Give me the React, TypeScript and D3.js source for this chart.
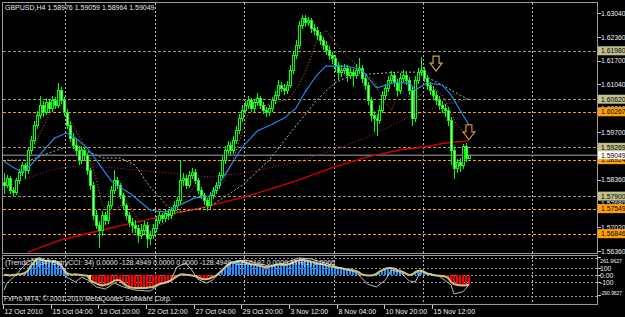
import React, { useEffect } from "react";
import * as d3 from "d3";

const W = 625;
const H = 317;

const symbolTitle = "GBPUSD,H4  1.58976 1.59059 1.58964 1.59049";
const indicatorTitle =
  "(TrendCCI(34) EntryCCI: 34)  0.0000  -128.4949  0.0000  0.0000  -128.4949  -123.6192  0.0000  ATR(1) 0.0066";
const copyright = "FxPro MT4, \u00a9 2001-2010 MetaQuotes Software Corp.";

// [open, high, low, close] per H4 bar
const candles: [number, number, number, number][] = [
  [1.5830, 1.5856, 1.5798, 1.5821], [1.5821, 1.5850, 1.5815, 1.5841], [1.5841, 1.5846, 1.5798, 1.5807],
  [1.5807, 1.5815, 1.5790, 1.5802], [1.5802, 1.5842, 1.5797, 1.5835], [1.5835, 1.5866, 1.5828, 1.5858],
  [1.5858, 1.5886, 1.5850, 1.5877], [1.5877, 1.5884, 1.5840, 1.5863], [1.5863, 1.5928, 1.5855, 1.5919],
  [1.5919, 1.5958, 1.5910, 1.5948], [1.5948, 1.6000, 1.5940, 1.5990], [1.5990, 1.6030, 1.5982, 1.6018],
  [1.6018, 1.6070, 1.6010, 1.6046], [1.6046, 1.6056, 1.6015, 1.6026], [1.6026, 1.6066, 1.6020, 1.6054],
  [1.6054, 1.6064, 1.6028, 1.6037], [1.6037, 1.6072, 1.6030, 1.6060], [1.6060, 1.6068, 1.6038, 1.6046],
  [1.6046, 1.6107, 1.6040, 1.6088], [1.6088, 1.6096, 1.6050, 1.6060], [1.6060, 1.6068, 1.6018, 1.6026],
  [1.6026, 1.6034, 1.5980, 1.5990], [1.5990, 1.5998, 1.5945, 1.5953], [1.5953, 1.5966, 1.5925, 1.5934],
  [1.5934, 1.5950, 1.5908, 1.5919], [1.5919, 1.5930, 1.5880, 1.5891], [1.5891, 1.5930, 1.5884, 1.5919],
  [1.5919, 1.5928, 1.5895, 1.5905], [1.5905, 1.5912, 1.5852, 1.5863], [1.5863, 1.5870, 1.5810, 1.5821],
  [1.5821, 1.5830, 1.5725, 1.5737], [1.5737, 1.5750, 1.5700, 1.5709], [1.5709, 1.5720, 1.5647, 1.5695],
  [1.5695, 1.5748, 1.5680, 1.5737], [1.5737, 1.5745, 1.5712, 1.5723], [1.5723, 1.5776, 1.5715, 1.5765],
  [1.5765, 1.5818, 1.5758, 1.5807], [1.5807, 1.5862, 1.5800, 1.5835], [1.5835, 1.5845, 1.5812, 1.5821],
  [1.5821, 1.5828, 1.5785, 1.5793], [1.5793, 1.5800, 1.5755, 1.5765], [1.5765, 1.5772, 1.5725, 1.5737],
  [1.5737, 1.5745, 1.5705, 1.5717], [1.5717, 1.5730, 1.5690, 1.5709], [1.5709, 1.5722, 1.5688, 1.5700],
  [1.5700, 1.5710, 1.5660, 1.5681], [1.5681, 1.5712, 1.5672, 1.5695], [1.5695, 1.5720, 1.5685, 1.5709],
  [1.5709, 1.5716, 1.5647, 1.5672], [1.5672, 1.5692, 1.5655, 1.5681], [1.5681, 1.5712, 1.5672, 1.5700],
  [1.5700, 1.5735, 1.5692, 1.5723], [1.5723, 1.5748, 1.5715, 1.5737], [1.5737, 1.5744, 1.5718, 1.5729],
  [1.5729, 1.5752, 1.5720, 1.5743], [1.5743, 1.5750, 1.5726, 1.5737], [1.5737, 1.5760, 1.5728, 1.5751],
  [1.5751, 1.5775, 1.5742, 1.5765], [1.5765, 1.5788, 1.5755, 1.5779], [1.5779, 1.5892, 1.5770, 1.5835],
  [1.5835, 1.5855, 1.5822, 1.5841], [1.5841, 1.5848, 1.5812, 1.5821], [1.5821, 1.5860, 1.5815, 1.5849],
  [1.5849, 1.5868, 1.5840, 1.5858], [1.5858, 1.5865, 1.5826, 1.5835], [1.5835, 1.5842, 1.5798, 1.5807],
  [1.5807, 1.5815, 1.5785, 1.5793], [1.5793, 1.5800, 1.5768, 1.5779], [1.5779, 1.5786, 1.5752, 1.5765],
  [1.5765, 1.5802, 1.5758, 1.5793], [1.5793, 1.5815, 1.5785, 1.5807], [1.5807, 1.5830, 1.5798, 1.5821],
  [1.5821, 1.5858, 1.5812, 1.5849], [1.5849, 1.5902, 1.5840, 1.5891], [1.5891, 1.5930, 1.5882, 1.5919],
  [1.5919, 1.5945, 1.5910, 1.5934], [1.5934, 1.5942, 1.5908, 1.5919], [1.5919, 1.5958, 1.5912, 1.5948],
  [1.5948, 1.5988, 1.5940, 1.5976], [1.5976, 1.6020, 1.5968, 1.6009], [1.6009, 1.6045, 1.6000, 1.6032],
  [1.6032, 1.6058, 1.6024, 1.6046], [1.6046, 1.6072, 1.6038, 1.6060], [1.6060, 1.6066, 1.6028, 1.6037],
  [1.6037, 1.6062, 1.6030, 1.6054], [1.6054, 1.6080, 1.6046, 1.6065], [1.6065, 1.6072, 1.6038, 1.6046],
  [1.6046, 1.6054, 1.6022, 1.6032], [1.6032, 1.6040, 1.6015, 1.6026], [1.6026, 1.6045, 1.6018, 1.6037],
  [1.6037, 1.6068, 1.6030, 1.6060], [1.6060, 1.6084, 1.6052, 1.6074], [1.6074, 1.6115, 1.6066, 1.6102],
  [1.6102, 1.6110, 1.6085, 1.6094], [1.6094, 1.6104, 1.6078, 1.6088], [1.6088, 1.6112, 1.6080, 1.6102],
  [1.6102, 1.6158, 1.6095, 1.6144], [1.6144, 1.6198, 1.6136, 1.6186], [1.6186, 1.6228, 1.6178, 1.6214],
  [1.6214, 1.6282, 1.6205, 1.6270], [1.6270, 1.6298, 1.6262, 1.6290], [1.6290, 1.6298, 1.6268, 1.6279],
  [1.6279, 1.6292, 1.6270, 1.6284], [1.6284, 1.6290, 1.6250, 1.6262], [1.6262, 1.6272, 1.6245, 1.6256],
  [1.6256, 1.6264, 1.6232, 1.6242], [1.6242, 1.6252, 1.6218, 1.6228], [1.6228, 1.6236, 1.6204, 1.6214],
  [1.6214, 1.6225, 1.6190, 1.6200], [1.6200, 1.6210, 1.6176, 1.6186], [1.6186, 1.6195, 1.6165, 1.6178],
  [1.6178, 1.6186, 1.6140, 1.6158], [1.6158, 1.6166, 1.6120, 1.6138], [1.6138, 1.6158, 1.6128, 1.6144],
  [1.6144, 1.6162, 1.6135, 1.6150], [1.6150, 1.6158, 1.6112, 1.6130], [1.6130, 1.6150, 1.6122, 1.6138],
  [1.6138, 1.6146, 1.6100, 1.6130], [1.6130, 1.6160, 1.6122, 1.6144], [1.6144, 1.6178, 1.6136, 1.6150],
  [1.6150, 1.6158, 1.6110, 1.6122], [1.6122, 1.6130, 1.6090, 1.6102], [1.6102, 1.6110, 1.6048, 1.6060],
  [1.6060, 1.6068, 1.6005, 1.6018], [1.6018, 1.6030, 1.5972, 1.6009], [1.6009, 1.6020, 1.5962, 1.6004],
  [1.6004, 1.6045, 1.5995, 1.6032], [1.6032, 1.6085, 1.6025, 1.6074], [1.6074, 1.6105, 1.6066, 1.6094],
  [1.6094, 1.6128, 1.6086, 1.6116], [1.6116, 1.6142, 1.6108, 1.6130], [1.6130, 1.6138, 1.6100, 1.6110],
  [1.6110, 1.6118, 1.6075, 1.6088], [1.6088, 1.6135, 1.6080, 1.6122], [1.6122, 1.6145, 1.6114, 1.6130],
  [1.6130, 1.6140, 1.6105, 1.6116], [1.6116, 1.6124, 1.6078, 1.6088], [1.6088, 1.6098, 1.5990, 1.6010],
  [1.6010, 1.6128, 1.6002, 1.6116], [1.6116, 1.6150, 1.6108, 1.6138], [1.6138, 1.6180, 1.6130, 1.6144],
  [1.6144, 1.6152, 1.6112, 1.6122], [1.6122, 1.6130, 1.6092, 1.6102], [1.6102, 1.6110, 1.6078, 1.6088],
  [1.6088, 1.6098, 1.6062, 1.6074], [1.6074, 1.6085, 1.6048, 1.6060], [1.6060, 1.6070, 1.6035, 1.6046],
  [1.6046, 1.6056, 1.6025, 1.6037], [1.6037, 1.6048, 1.6015, 1.6032], [1.6032, 1.6040, 1.5990, 1.6004],
  [1.6004, 1.6012, 1.5880, 1.5919], [1.5919, 1.5928, 1.5841, 1.5869], [1.5869, 1.5895, 1.5858, 1.5886],
  [1.5886, 1.5898, 1.5860, 1.5877], [1.5877, 1.5935, 1.5868, 1.5930], [1.5930, 1.5938, 1.5890, 1.58976],
  [1.58976, 1.59059, 1.58964, 1.59049],
];

// moving averages: [bar index, price]
const blueMA: [number, number][] = [
  [0, 1.5888], [3, 1.5871], [6, 1.5858], [9, 1.5877], [14, 1.5925], [17, 1.5953], [21, 1.5967],
  [24, 1.5953], [28, 1.5925], [31, 1.5891], [36, 1.5832], [43, 1.5793], [49, 1.5751], [54, 1.5745],
  [59, 1.5765], [64, 1.5785], [69, 1.5788], [73, 1.5835], [80, 1.5928], [85, 1.5973], [90, 1.5992],
  [94, 1.6009], [98, 1.6037], [101, 1.6082], [105, 1.6130], [108, 1.6155], [115, 1.6155], [120, 1.6144],
  [125, 1.6094], [131, 1.6108], [136, 1.6108], [138, 1.6088], [142, 1.6108], [147, 1.6102],
  [150, 1.6074], [153, 1.6032], [156, 1.5990],
];
const redMA: [number, number][] = [
  [8, 1.5633], [19, 1.5667], [33, 1.5695], [43, 1.5715], [52, 1.5731], [59, 1.5745], [66, 1.5757],
  [81, 1.5788], [97, 1.5830], [111, 1.5872], [122, 1.5900], [133, 1.5920], [141, 1.5928],
  [148, 1.5939], [156, 1.5945],
];
const purpleMA: [number, number][] = [
  [0, 1.5813], [9, 1.5844], [16, 1.5864], [22, 1.5872], [33, 1.5872], [44, 1.5864], [55, 1.5855],
  [69, 1.5844], [81, 1.5855], [97, 1.5883], [111, 1.5920], [122, 1.5956], [136, 1.6012],
  [147, 1.6046], [156, 1.6063],
];
const grayMA: [number, number][] = [
  [1, 1.5891], [9, 1.5891], [16, 1.5914], [21, 1.5928], [27, 1.5920], [33, 1.5897], [39, 1.5897],
  [44, 1.5877], [49, 1.5816], [55, 1.5760], [59, 1.5745], [69, 1.5760], [80, 1.5821], [89, 1.5891],
  [95, 1.5956], [105, 1.6060], [111, 1.6108], [116, 1.6127], [123, 1.6133], [132, 1.6138],
  [138, 1.6138], [140, 1.6133], [150, 1.6088], [156, 1.6060],
];
const orangeMA: [number, number][] = [
  [6, 1.5849], [11, 1.5948], [16, 1.6032], [20, 1.6046], [23, 1.5990], [28, 1.5919], [31, 1.5835],
  [33, 1.5765], [36, 1.5737], [41, 1.5779], [46, 1.5709], [53, 1.5709], [59, 1.5751], [64, 1.5821],
  [69, 1.5779], [74, 1.5835], [78, 1.5919], [82, 1.6023], [88, 1.6046], [95, 1.6060], [99, 1.6102],
  [102, 1.6158], [105, 1.6228], [108, 1.6256], [113, 1.6200], [120, 1.6144], [124, 1.6116],
  [127, 1.6060], [130, 1.6032], [133, 1.6088], [137, 1.6060], [140, 1.6074], [143, 1.6102],
  [147, 1.6074], [152, 1.5990], [155, 1.5962],
];

const timeLabels = [
  "12 Oct 2010", "15 Oct 04:00", "19 Oct 20:00", "22 Oct 12:00", "27 Oct 04:00",
  "29 Oct 20:00", "3 Nov 12:00", "8 Nov 04:00", "10 Nov 20:00", "15 Nov 12:00",
];
const timeLabelBars = [0, 16, 32, 48, 64, 80, 96, 112, 128, 144];
const gridBars = [20.5, 50.7, 80.5, 110.7, 140.6, 177.2];

const priceTicks = [1.6304, 1.6236, 1.617, 1.6104, 1.6036, 1.597, 1.5902, 1.5836, 1.5768, 1.5702, 1.5636];
const khakiLevels = [1.6198, 1.6062, 1.59269, 1.579];
const orangeLevels = [1.60267, 1.58924, 1.57549, 1.56846];
const bidPrice = 1.59049;

const signalBars = [145, 156];
const signalPrices = [1.6183, 1.599];
const signalColors = ["#c9a850", "#d98a2a"];

// CCI histogram (trend CCI), one value per bar
const cciValues = [
  5, 0, -5, 0, 5, 10, 15, 30,
  60, 130, 180, 230, 240, 220, 200, 210, 190, 200, 180, 150, 80,
  30, 10, 5, 10, 5, 0, -5, -10, -80,
  -100, -120, -140, -150, -140, -130, -110, -80, -70, -80,
  -120, -150, -170, -180, -185, -185, -180, -185, -180, -175,
  -170, -150, -130, -120, -110, -100, -80, -50, -20, 5,
  10, 5, 0, -5, -15, -30, -50, -60, -60, -50,
  -30, -15,
  20, 60, 100, 140, 170, 180, 190, 200, 190,
  180, 170, 150, 150, 140, 130, 120, 110, 120, 130, 140, 150, 150, 140, 150, 160, 180, 200, 210, 220,
  210, 200, 190, 180,
  170, 160, 150, 140, 130, 120, 110, 100, 100, 90, 80, 80, 70, 60, 40, 10, 0, -5, -5, 0,
  20, 50, 70, 90, 100, 100, 90, 70, 60, 40, 20, 0, 10, 40, 60, 60, 40, 20, 10, 0, -5, -10, -15, -20, -40,
  -100, -130, -140, -145, -150, -145, -140,
];
const yellowBars = [29, 71];
// entry CCI (white line): [bar index, value]
const cciFast: [number, number][] = [
  [0, -215], [1, -115], [4, 0], [6, 100], [8, 185], [10, 230], [14, 200], [17, 185], [20, 100],
  [21, -30], [24, -100], [26, -30], [28, -70], [31, -170], [34, -200], [37, -115], [40, -170],
  [44, -215], [49, -230], [52, -140], [56, -70], [58, 115], [61, 170], [63, 70], [65, -60],
  [68, -115], [70, -70], [73, 70], [76, 185], [81, 215], [86, 155], [89, 130], [94, 170],
  [99, 245], [103, 230], [108, 170], [113, 100], [118, 40], [120, -40], [122, -130], [125, -170],
  [128, -70], [130, 70], [133, 40], [136, -85], [138, -100], [140, 70], [142, 30], [146, -15],
  [150, -140], [151, -270], [154, -240], [156, -140],
];
const cciLevels = [250, 100, 0, -100, -300];
const cciAxisValues = [261.9627, 100, 0, -100, -290.9827];
const cciAxisTexts = ["261.9627", "100", "0.00", "-100", "-290.9827"];

const FONT = "'Liberation Sans', Arial, sans-serif";

export default function App() {
  useEffect(() => {
    document.body.style.margin = "0";
    document.body.style.background = "#000";
  }, []);

  const x = d3.scaleLinear().domain([0, 156]).range([4, 4 + 156 * 2.98]);
  const y = d3.scaleLinear().domain([1.5636, 1.6304]).range([251, 13]);
  const yc = d3.scaleLinear().domain([-290.9827, 261.9627]).range([295.4, 256.7]);

  const maLine = d3
    .line<[number, number]>()
    .x((d) => x(d[0]))
    .y((d) => y(d[1]));
  const cciLine = d3
    .line<number>()
    .x((_, i) => x(i))
    .y((d) => yc(d));
  const fastLine = d3
    .line<[number, number]>()
    .x((d) => x(d[0]))
    .y((d) => yc(d[1]));

  const left = 2.5;
  const right = 597.5;
  const mainTop = 2.5;
  const mainBottom = 253.5;
  const indTop = 255.5;
  const indBottom = 304.5;

  const px = (v: number) => Math.round(v) + 0.5;

  return (
    <svg
      width={W}
      height={H}
      style={{ position: "absolute", left: 0, top: 0, background: "#000", display: "block" }}
      fontFamily={FONT}
    >
      <rect x={0} y={0} width={W} height={H} fill="#000" />
      <defs>
        <clipPath id="mainClip">
          <rect x={left} y={mainTop} width={right - left} height={mainBottom - mainTop} />
        </clipPath>
        <clipPath id="indClip">
          <rect x={left} y={indTop} width={right - left} height={indBottom - indTop} />
        </clipPath>
      </defs>

      {/* main window */}
      <g clipPath="url(#mainClip)">
        {gridBars.map((b, i) => (
          <line key={"g" + i} x1={px(x(b))} x2={px(x(b))} y1={mainTop} y2={mainBottom}
            stroke="#b8b8b8" strokeDasharray="2,2" shapeRendering="crispEdges" />
        ))}
        {khakiLevels.map((p, i) => (
          <line key={"k" + i} x1={left} x2={right} y1={px(y(p))} y2={px(y(p))}
            stroke="#9c9a6c" strokeDasharray="3,2" shapeRendering="crispEdges" />
        ))}
        {orangeLevels.map((p, i) => (
          <line key={"o" + i} x1={left} x2={right} y1={px(y(p))} y2={px(y(p))}
            stroke="#ff9c00" strokeDasharray="3,2" shapeRendering="crispEdges" />
        ))}
        <line x1={left} x2={right} y1={y(bidPrice)} y2={y(bidPrice)} stroke="#6e6e6e" strokeWidth={1.6} />

        <path d={maLine(purpleMA) || ""} fill="none" stroke="#a0286a" strokeWidth={1} strokeDasharray="1,2" />
        <path d={maLine(redMA) || ""} fill="none" stroke="#d40000" strokeWidth={1.4} />
        <path d={maLine(grayMA) || ""} fill="none" stroke="#b4b4b4" strokeWidth={1} strokeDasharray="2,2" />
        <path d={maLine(orangeMA) || ""} fill="none" stroke="#d2782a" strokeWidth={1} strokeDasharray="1,2" />

        {candles.map(([o, h, l, c], i) => {
          const cx = px(x(i));
          const bull = c >= o;
          const top = Math.round(y(Math.max(o, c))) + 0.5;
          const bot = Math.round(y(Math.min(o, c))) + 0.5;
          return (
            <g key={"c" + i}>
              <line x1={cx} x2={cx} y1={Math.round(y(h))} y2={Math.round(y(l)) + 1} stroke="#00ff00"
                shapeRendering="crispEdges" />
              <rect x={cx - 1} y={top} width={2} height={Math.max(bot - top, 0)}
                fill={bull ? "#000" : "#a8ffa8"} stroke="#00ff00" shapeRendering="crispEdges" />
            </g>
          );
        })}

        <path d={maLine(blueMA) || ""} fill="none" stroke="#1e8fff" strokeWidth={1.1} />

        {signalBars.map((b, i) => {
          const cx = x(b);
          const t = y(signalPrices[i]);
          const d = `M${cx - 3},${t} L${cx + 3},${t} L${cx + 3},${t + 7} L${cx + 6},${t + 7} L${cx},${t + 15} L${cx - 6},${t + 7} L${cx - 3},${t + 7} Z`;
          return <path key={"s" + i} d={d} fill="none" stroke={signalColors[i]} strokeWidth={1.2} />;
        })}

        <text x={5} y={10} fill="#e8e8e8" fontSize={7}>{symbolTitle}</text>
      </g>

      {/* indicator window */}
      <g clipPath="url(#indClip)">
        {gridBars.map((b, i) => (
          <line key={"ig" + i} x1={px(x(b))} x2={px(x(b))} y1={indTop} y2={indBottom}
            stroke="#b8b8b8" strokeDasharray="2,2" shapeRendering="crispEdges" />
        ))}
        {cciLevels.map((v, i) => (
          <line key={"lv" + i} x1={left} x2={right} y1={px(yc(v))} y2={px(yc(v))}
            stroke="#9a9a9a" strokeDasharray="2,2" shapeRendering="crispEdges" />
        ))}
        {cciValues.map((v, i) => {
          const cx = Math.round(x(i));
          const y0 = yc(0);
          const y1 = yc(v);
          const color = yellowBars.includes(i) ? "#ffff00" : v >= 0 ? "#1e8fff" : "#ff0000";
          return (
            <rect key={"h" + i} x={cx - 1} width={2} y={Math.min(y0, y1)} height={Math.abs(y1 - y0)}
              fill={color} shapeRendering="crispEdges" />
          );
        })}
        <path d={cciLine(cciValues) || ""} fill="none" stroke="#cdc07a" strokeWidth={2} />
        <path d={fastLine(cciFast) || ""} fill="none" stroke="#cfcfcf" strokeWidth={0.9} />
        <text x={5} y={265} fill="#e8e8e8" fontSize={7}>{indicatorTitle}</text>
        <text x={4} y={301} fill="#e8e8e8" fontSize={7}>{copyright}</text>
      </g>

      {/* frames */}
      <rect x={left} y={mainTop} width={right - left} height={mainBottom - mainTop} fill="none" stroke="#9a9a9a"
        shapeRendering="crispEdges" />
      <rect x={left} y={indTop} width={right - left} height={indBottom - indTop} fill="none" stroke="#9a9a9a"
        shapeRendering="crispEdges" />

      {/* price axis */}
      {priceTicks.map((p, i) => (
        <g key={"pt" + i}>
          <line x1={right} x2={right + 3} y1={px(y(p))} y2={px(y(p))} stroke="#c8c8c8" shapeRendering="crispEdges" />
          <text x={601} y={y(p) + 2.5} fill="#f0f0f0" fontSize={6.8}>{p.toFixed(5)}</text>
        </g>
      ))}
      {khakiLevels.map((p, i) => (
        <g key={"kb" + i}>
          <rect x={598} y={y(p) - 4.5} width={27} height={9} fill="#c2c08e" />
          <text x={601} y={y(p) + 2.5} fill="#000" fontSize={6.8}>{p.toFixed(5)}</text>
        </g>
      ))}
      {orangeLevels.map((p, i) => (
        <g key={"ob" + i}>
          <rect x={598} y={y(p) - 4.5} width={27} height={9} fill="#ffa200" />
          <text x={601} y={y(p) + 2.5} fill="#000" fontSize={6.8}>{p.toFixed(5)}</text>
        </g>
      ))}
      <rect x={598} y={y(bidPrice) - 4} width={27} height={8} fill="#ffffff" />
      <text x={601} y={y(bidPrice) + 2.5} fill="#000" fontSize={6.8}>{bidPrice.toFixed(5)}</text>

      {/* indicator axis */}
      {cciAxisValues.map((v, i) => {
        const off = i === 0 ? 6 : i === cciAxisValues.length - 1 ? 0 : 2.5;
        const long = cciAxisTexts[i].length > 6;
        return (
          <g key={"ca" + i}>
            <line x1={right} x2={right + 3} y1={px(yc(v))} y2={px(yc(v))} stroke="#c8c8c8" shapeRendering="crispEdges" />
            <text x={600} y={yc(v) + off} fill="#f0f0f0" fontSize={long ? 6.2 : 6.8}
              textLength={long ? 22 : undefined} lengthAdjust={long ? "spacingAndGlyphs" : undefined}>
              {cciAxisTexts[i]}
            </text>
          </g>
        );
      })}

      {/* time axis */}
      {timeLabelBars.map((b, i) => {
        const tx = Math.round(x(b)) - 0.5;
        return (
          <g key={"t" + i}>
            <line x1={tx} x2={tx} y1={indBottom} y2={indBottom + 4} stroke="#c8c8c8" shapeRendering="crispEdges" />
            <text x={tx + 1} y={314} fill="#f0f0f0" fontSize={7}>{timeLabels[i]}</text>
          </g>
        );
      })}
    </svg>
  );
}
